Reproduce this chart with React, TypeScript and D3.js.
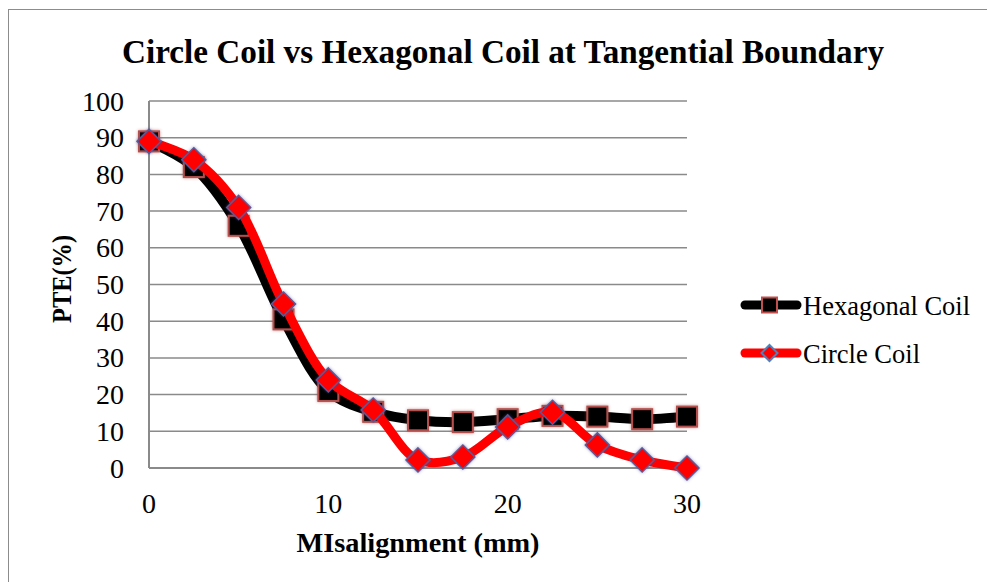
import React from "react";
import * as d3 from "d3";

const misalignment = [0, 2.5, 5, 7.5, 10, 12.5, 15, 17.5, 20, 22.5, 25, 27.5, 30];
const hexagonal = [89, 82, 66, 40.5, 21, 15.3, 13, 12.5, 13.3, 14.2, 14, 13.3, 14];
const circle = [89, 84, 71, 44.7, 24, 15.8, 2.2, 3, 11.2, 15.2, 6.3, 2.2, 0];
const xTicks = [0, 10, 20, 30];
const yTicks = [0, 10, 20, 30, 40, 50, 60, 70, 80, 90, 100];
const seriesNames = ["Hexagonal Coil", "Circle Coil"];

const W = 987;
const H = 582;
const FONT = "'Liberation Serif', 'DejaVu Serif', serif";

export default function App() {
  const x = d3.scaleLinear().domain([0, 30]).range([149, 687]);
  const y = d3.scaleLinear().domain([0, 100]).range([468, 101]);

  const line = d3
    .line<number>()
    .x((_, i) => x(misalignment[i]))
    .y((d) => y(d))
    .curve(d3.curveCatmullRom.alpha(0.5));

  const diamond = (cx: number, cy: number, r: number) =>
    `M${cx},${cy - r}L${cx + r},${cy}L${cx},${cy + r}L${cx - r},${cy}Z`;

  return (
    <svg
      width={W}
      height={H}
      style={{ position: "absolute", left: 0, top: 0, background: "#fff" }}
    >
      <defs>
        <filter id="glowHex" x="-50%" y="-50%" width="200%" height="200%">
          <feGaussianBlur in="SourceAlpha" stdDeviation="1.5" result="b" />
          <feFlood floodColor="#a04040" floodOpacity="0.6" />
          <feComposite in2="b" operator="in" result="s" />
          <feMerge>
            <feMergeNode in="s" />
            <feMergeNode in="SourceGraphic" />
          </feMerge>
        </filter>
        <filter id="glowDia" x="-50%" y="-50%" width="200%" height="200%">
          <feGaussianBlur in="SourceAlpha" stdDeviation="1.5" result="b" />
          <feFlood floodColor="#4a4a90" floodOpacity="0.6" />
          <feComposite in2="b" operator="in" result="s" />
          <feMerge>
            <feMergeNode in="s" />
            <feMergeNode in="SourceGraphic" />
          </feMerge>
        </filter>
      </defs>
      <rect x={8.5} y={9.5} width={990} height={590} fill="#fff" stroke="#8c8c8c" strokeWidth={1} />

      <text
        x={503}
        y={63}
        textAnchor="middle"
        fontFamily={FONT}
        fontWeight="bold"
        fontSize={34}
        textLength={762}
        lengthAdjust="spacingAndGlyphs"
      >
        Circle Coil vs Hexagonal Coil at Tangential Boundary
      </text>

      {yTicks.map((t) => (
        <g key={t}>
          <line x1={149} x2={687} y1={y(t)} y2={y(t)} stroke="#8a8a8a" strokeWidth={1.5} />
          <text
            x={124}
            y={y(t) + 9.5}
            textAnchor="end"
            fontFamily={FONT}
            fontSize={28}
          >
            {t}
          </text>
        </g>
      ))}
      <line x1={149} x2={149} y1={101} y2={468} stroke="#8a8a8a" strokeWidth={2} />
      <line x1={149} x2={687} y1={468} y2={468} stroke="#8a8a8a" strokeWidth={2} />
      {xTicks.map((t) => (
        <text
          key={t}
          x={x(t)}
          y={513}
          textAnchor="middle"
          fontFamily={FONT}
          fontSize={28}
        >
          {t}
        </text>
      ))}

      <text
        x={418}
        y={552}
        textAnchor="middle"
        fontFamily={FONT}
        fontWeight="bold"
        fontSize={28}
        textLength={243}
        lengthAdjust="spacingAndGlyphs"
      >
        MIsalignment (mm)
      </text>
      <text
        transform="translate(71,279) rotate(-90)"
        textAnchor="middle"
        fontFamily={FONT}
        fontWeight="bold"
        fontSize={27}
        textLength={88}
        lengthAdjust="spacingAndGlyphs"
      >
        PTE(%)
      </text>

      <path d={line(hexagonal) || ""} fill="none" stroke="#000" strokeWidth={10} strokeLinecap="round" />
      {hexagonal.map((v, i) => (
        <rect
          key={"h" + i}
          x={x(misalignment[i]) - 10}
          y={y(v) - 10}
          width={20}
          height={20}
          fill="#000"
          stroke="#b5504d"
          strokeWidth={2}
          filter="url(#glowHex)"
        />
      ))}
      <path d={line(circle) || ""} fill="none" stroke="#ff0000" strokeWidth={9} strokeLinecap="round" />
      {circle.map((v, i) => (
        <path
          key={"c" + i}
          d={diamond(x(misalignment[i]), y(v), 12)}
          fill="#ff0000"
          stroke="#5a5a9a"
          strokeWidth={1.5}
          filter="url(#glowDia)"
        />
      ))}

      <line x1={745} x2={797} y1={305} y2={305} stroke="#000" strokeWidth={9} strokeLinecap="round" />
      <rect x={762} y={297.5} width={15} height={15} fill="#000" stroke="#c0504d" strokeWidth={2} />
      <text x={803} y={315} fontFamily={FONT} fontSize={26.5}>
        {seriesNames[0]}
      </text>
      <line x1={745} x2={797} y1={353} y2={353} stroke="#ff0000" strokeWidth={9} strokeLinecap="round" />
      <path d={diamond(769.5, 353, 8)} fill="#ff0000" stroke="#4f81bd" strokeWidth={2} />
      <text x={803} y={363} fontFamily={FONT} fontSize={26.5}>
        {seriesNames[1]}
      </text>
    </svg>
  );
}
